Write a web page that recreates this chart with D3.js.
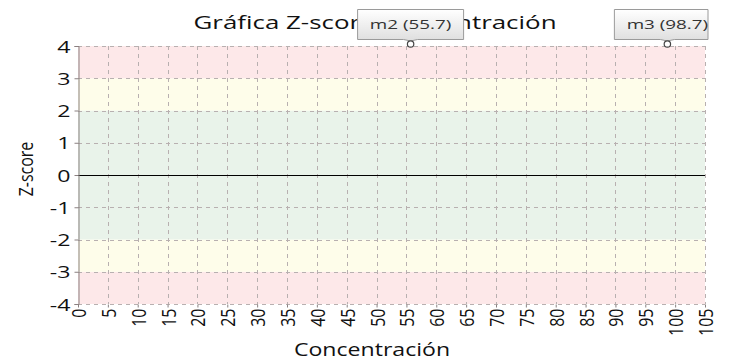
<!DOCTYPE html>
<html>
<head>
<meta charset="utf-8">
<script src="https://cdn.jsdelivr.net/npm/d3@7"></script>
<style>
  html, body { margin: 0; padding: 0; background: #fff; }
  svg { display: block; }
  text { font-family: "Open Sans", "Noto Sans", sans-serif; }
</style>
</head>
<body>
<svg id="chart" width="729" height="362"></svg>
<script>
// Sample points: name, concentration, z-score
const sampleNames = ["m2", "m3"];
const concentrations = [55.7, 98.7];
const zScores = [4, 4];

// Axis ticks
const xTicks = d3.range(0, 106, 5);
const yTicks = [-4, -3, -2, -1, 0, 1, 2, 3, 4];

// Acceptance bands (from, to, kind)
const bandFrom = [-4, -3, -2, 2, 3];
const bandTo = [-3, -2, 2, 3, 4];
const bandKind = ["bad", "warn", "ok", "warn", "bad"];

const bandColor = { bad: "#fde8e9", warn: "#fefdea", ok: "#e9f3ea" };
const WIDE = 1.36; // horizontal text stretch

const svg = d3.select("#chart");

const x = d3.scaleLinear().domain([0, 105]).range([78, 705]);
const y = d3.scaleLinear().domain([-4, 4]).range([304, 46]);

// Gradient for callout boxes
const defs = svg.append("defs");
const grad = defs.append("linearGradient").attr("id", "calloutFill")
  .attr("x1", 0).attr("y1", 0).attr("x2", 0).attr("y2", 1);
grad.append("stop").attr("offset", "0%").attr("stop-color", "#ffffff");
grad.append("stop").attr("offset", "100%").attr("stop-color", "#dedede");

// Bands
svg.append("g").selectAll("rect")
  .data(bandFrom.map((f, i) => ({ from: f, to: bandTo[i], kind: bandKind[i] })))
  .join("rect")
  .attr("x", x(0))
  .attr("width", x(105) - x(0))
  .attr("y", d => y(d.to))
  .attr("height", d => y(d.from) - y(d.to))
  .attr("fill", d => bandColor[d.kind]);

// Grid
const grid = svg.append("g").attr("stroke", "#b8b0b0").attr("stroke-width", 1)
  .attr("stroke-dasharray", "4,4").attr("shape-rendering", "crispEdges");
grid.selectAll(".vx").data(xTicks.filter(d => d > 0)).join("line")
  .attr("x1", d => Math.round(x(d)) + 0.5).attr("x2", d => Math.round(x(d)) + 0.5)
  .attr("y1", y(4)).attr("y2", y(-4));
grid.selectAll(".hy").data(yTicks.filter(d => d !== 0)).join("line")
  .attr("y1", d => Math.round(y(d)) + 0.5).attr("y2", d => Math.round(y(d)) + 0.5)
  .attr("x1", x(0)).attr("x2", x(105));

// Zero line
svg.append("line")
  .attr("x1", x(0)).attr("x2", x(105))
  .attr("y1", Math.round(y(0)) + 0.5).attr("y2", Math.round(y(0)) + 0.5)
  .attr("stroke", "#000").attr("stroke-width", 1);

// Y axis
const yAxis = svg.append("g")
  .attr("transform", `translate(${Math.round(x(0)) + 0.5},0)`)
  .call(d3.axisLeft(y).tickValues(yTicks).tickSize(4).tickFormat(d3.format("d")));
yAxis.select(".domain").attr("stroke", "#8a8080");
yAxis.selectAll(".tick line").attr("stroke", "#8a8080");
yAxis.selectAll("text")
  .attr("font-size", 17).attr("fill", "#111")
  .attr("x", 0).attr("dy", "0.36em").attr("text-anchor", "end")
  .attr("transform", `translate(-8,0) scale(${WIDE},1)`)
  .text(d => d < 0 ? "-" + Math.abs(d) : d);

// X axis
const xAxis = svg.append("g")
  .attr("transform", `translate(0,${Math.round(y(-4)) + 0.5})`)
  .call(d3.axisBottom(x).tickValues(xTicks).tickSize(3).tickFormat(d3.format("d")));
xAxis.select(".domain").remove();
xAxis.selectAll(".tick line").attr("stroke", "#8a8080");
xAxis.selectAll("text")
  .attr("font-size", 16).attr("fill", "#111")
  .attr("text-anchor", "end")
  .attr("x", 0).attr("y", 0).attr("dy", "0.36em")
  .attr("transform", `translate(0,4) scale(1.3,1) rotate(-90)`);

// Titles
function wideText(tx, ty, size, content, rot = 0, sx = WIDE) {
  return svg.append("text")
    .attr("transform", `translate(${tx},${ty}) scale(${sx},1) rotate(${rot})`)
    .attr("text-anchor", "middle").attr("font-size", size).attr("fill", "#111")
    .text(content);
}
wideText(375, 29, 17.5, "Gráfica Z-score Concentración", 0, 1.48);
wideText(372, 356, 17.5, "Concentración", 0, 1.32);
wideText(33, 169, 16, "Z-score", -90, 1.2);

// Points with callouts
const pts = sampleNames.map((n, i) => ({ name: n, c: concentrations[i], z: zScores[i] }));
const pg = svg.append("g");
pts.forEach(p => {
  const px = x(p.c), py = y(p.z) - 2;
  const label = `${p.name} (${p.c})`;
  const boxW = 106, boxH = 30;
  const bx = px - boxW / 2;
  const right = Math.min(bx + boxW, 708);
  const by = 9.5;
  const g = pg.append("g");
  const tipY = py - 3;
  g.append("path")
    .attr("d", `M${bx},${by} H${right} V${by + boxH} H${px + 7} L${px},${tipY} L${px - 7},${by + boxH} H${bx} Z`)
    .attr("fill", "url(#calloutFill)").attr("stroke", "#9a9a9a").attr("stroke-width", 1);
  g.append("text")
    .attr("transform", `translate(${px},${by + 19.5}) scale(1.45,1)`)
    .attr("text-anchor", "middle").attr("font-size", 13).attr("fill", "#333")
    .text(label);
  g.append("circle").attr("cx", px).attr("cy", py).attr("r", 3.2)
    .attr("fill", "#fff").attr("stroke", "#444").attr("stroke-width", 1.2);
});
</script>
</body>
</html>
